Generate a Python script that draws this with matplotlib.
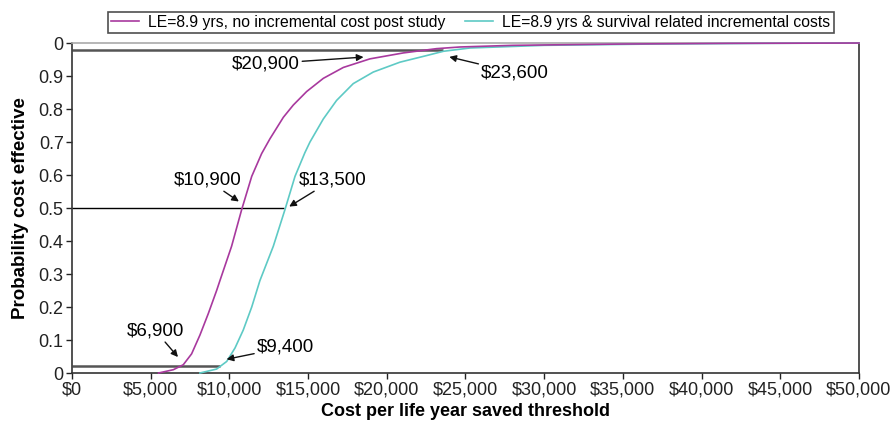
import matplotlib
matplotlib.use("Agg")
import matplotlib.pyplot as plt

plt.rcParams['font.family'] = ['Liberation Sans', 'DejaVu Sans']

# Cumulative probability of cost effectiveness vs threshold
mag_label = "LE=8.9 yrs, no incremental cost post study"
mag_x = [5500, 6440, 7070, 7600, 8130, 8660, 9190, 9400, 10140, 10780, 11420,
         12050, 12580, 13430, 14060, 14910, 15970, 17240, 18930, 21050, 23170,
         24650, 28000, 35000, 41700, 50000]
mag_y = [0, 0.01, 0.025, 0.058, 0.115, 0.18, 0.25, 0.28, 0.384, 0.495, 0.596,
         0.665, 0.71, 0.775, 0.812, 0.853, 0.893, 0.926, 0.952, 0.970, 0.983,
         0.988, 0.993, 0.997, 0.999, 1.0]

cyan_label = "LE=8.9 yrs & survival related incremental costs"
cyan_x = [8130, 9190, 9830, 10360, 10880, 11420, 11940, 12790, 13530, 14170,
          14800, 15120, 15970, 16810, 17870, 19140, 20840, 22530, 23600, 25290,
          30000, 37000, 44000, 50000]
cyan_y = [0, 0.012, 0.035, 0.076, 0.13, 0.20, 0.28, 0.384, 0.495, 0.596,
          0.668, 0.700, 0.770, 0.826, 0.877, 0.912, 0.942, 0.962, 0.975, 0.985,
          0.993, 0.997, 0.999, 1.0]

# Reference probability levels and the thresholds where each curve reaches them
levels = [0.022, 0.5, 0.978]
mag_marks = [6900, 10900, 20900]
cyan_marks = [9400, 13500, 23600]

x_ticks = [0, 5000, 10000, 15000, 20000, 25000, 30000, 35000, 40000, 45000, 50000]
x_tick_labels = ["$0", "$5,000", "$10,000", "$15,000", "$20,000", "$25,000",
                 "$30,000", "$35,000", "$40,000", "$45,000", "$50,000"]
y_ticks = [0, 0.1, 0.2, 0.3, 0.4, 0.5, 0.6, 0.7, 0.8, 0.9, 1.0]
y_tick_labels = ["0", "0.1", "0.2", "0.3", "0.4", "0.5", "0.6", "0.7", "0.8", "0.9", "0"]

MAG = "#a8399e"
CYAN = "#5ecac5"

fig = plt.figure(figsize=(8.93, 4.26), dpi=100)
ax = fig.add_axes([0.0806, 0.1244, 0.8813, 0.7746])

# horizontal reference lines out to the second curve's threshold
line_styles = [("#555555", 1.8), ("black", 1.0), ("#555555", 1.8)]
for lvl, xend, (c, lw) in zip(levels, cyan_marks, line_styles):
    ax.plot([0, xend], [lvl, lvl], color=c, lw=lw, zorder=2, solid_capstyle='butt')

ax.plot(cyan_x, cyan_y, color=CYAN, lw=1.2, label=cyan_label, zorder=3, clip_on=False)
ax.plot(mag_x, mag_y, color=MAG, lw=1.2, label=mag_label, zorder=4, clip_on=False)

ax.set_xlim(0, 50000)
ax.set_ylim(0, 1)
ax.set_xticks(x_ticks)
ax.set_xticklabels(x_tick_labels)
ax.set_yticks(y_ticks)
ax.set_yticklabels(y_tick_labels)
ax.tick_params(axis='both', labelsize=13, direction='out', length=4, width=1,
               colors='#222222', pad=2)

for s in ["left", "bottom", "right"]:
    ax.spines[s].set_color("#333333")
    ax.spines[s].set_linewidth(1.2)
ax.spines["top"].set_color("#aaaaaa")
ax.spines["top"].set_linewidth(1.2)

ax.set_xlabel("Cost per life year saved threshold", fontsize=13, fontweight='bold',
              labelpad=3)
ax.set_ylabel("Probability cost effective", fontsize=13.5, fontweight='bold', labelpad=7)

arrow = dict(arrowstyle="-|>", color="#111111", lw=1.0, mutation_scale=10,
             shrinkA=0, shrinkB=2)
ann_fs = 13.5
# lower percentile
ax.annotate(f"${mag_marks[0]:,}", xy=(mag_marks[0] - 50, 0.042), xytext=(5300, 0.128),
            fontsize=ann_fs, ha='center', va='center', arrowprops=arrow)
ax.annotate(f"${cyan_marks[0]:,}", xy=(cyan_marks[0] + 250, 0.04), xytext=(11750, 0.078),
            fontsize=ann_fs, ha='left', va='center', arrowprops=arrow)
# median
ax.annotate(f"${mag_marks[1]:,}", xy=(mag_marks[1] - 150, 0.515), xytext=(8600, 0.585),
            fontsize=ann_fs, ha='center', va='center', arrowprops=arrow)
ax.annotate(f"${cyan_marks[1]:,}", xy=(cyan_marks[1] + 150, 0.5), xytext=(14400, 0.585),
            fontsize=ann_fs, ha='left', va='center', arrowprops=arrow)
# upper percentile
ax.annotate(f"${mag_marks[2]:,}", xy=(18700, 0.958), xytext=(14450, 0.937),
            fontsize=ann_fs, ha='right', va='center', arrowprops=arrow)
ax.annotate(f"${cyan_marks[2]:,}", xy=(23800, 0.96), xytext=(26000, 0.91),
            fontsize=ann_fs, ha='left', va='center', arrowprops=arrow)

handles, labels = ax.get_legend_handles_labels()
order = [1, 0]
leg = fig.legend([handles[i] for i in order], [labels[i] for i in order],
                 loc='center', bbox_to_anchor=(0.527, 0.948), ncol=2, fontsize=11.3,
                 frameon=True, fancybox=False, edgecolor='#222222', handlelength=1.8,
                 handletextpad=0.6, columnspacing=1.2, borderpad=0.2)
leg.get_frame().set_linewidth(1.2)

fig.savefig("out.png", dpi=100)
